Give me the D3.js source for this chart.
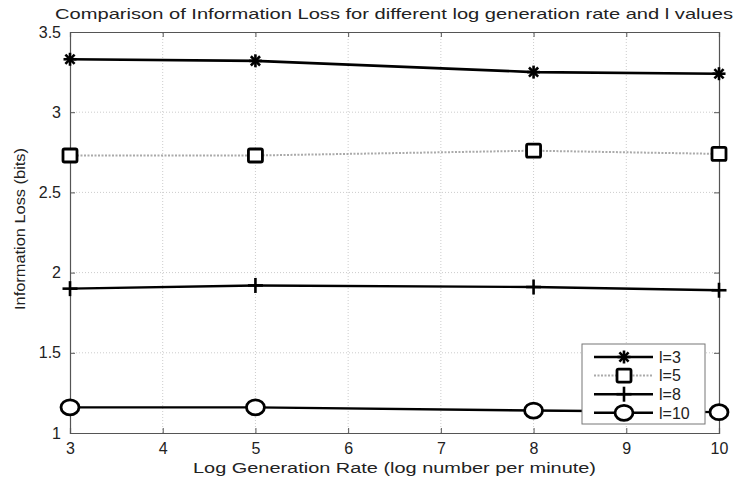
<!DOCTYPE html>
<html>
<head>
<meta charset="utf-8">
<script src="https://cdn.jsdelivr.net/npm/d3@7"></script>
<style>
  body { margin: 0; background: #fff; }
  text { font-family: "Liberation Sans", Arial, sans-serif; fill: #222; }
</style>
</head>
<body>
<script>
// data
var rates = [3, 5, 8, 10]
var seriesNames = ['l=3', 'l=5', 'l=8', 'l=10']
var loss_l3 = [3.33, 3.32, 3.25, 3.24]
var loss_l5 = [2.73, 2.73, 2.76, 2.74]
var loss_l8 = [1.90, 1.92, 1.91, 1.89]
var loss_l10 = [1.16, 1.16, 1.14, 1.13]
var xTicks = [3, 4, 5, 6, 7, 8, 9, 10]
var yTicks = [1, 1.5, 2, 2.5, 3, 3.5]

var W = 736, H = 478
var m = { left: 70, right: 17, top: 32, bottom: 45 }

var svg = d3.select('body').append('svg').attr('width', W).attr('height', H)

var x = d3.scaleLinear().domain([3, 10]).range([m.left, W - m.right])
var y = d3.scaleLinear().domain([1, 3.5]).range([H - m.bottom, m.top])

// grid
svg.append('g').selectAll('line').data(xTicks.slice(1, -1)).enter().append('line')
  .attr('x1', x).attr('x2', x).attr('y1', y(1)).attr('y2', y(3.5))
  .attr('stroke', '#ccc').attr('stroke-width', 1).attr('stroke-dasharray', '1,2')
svg.append('g').selectAll('line').data(yTicks.slice(1, -1)).enter().append('line')
  .attr('y1', y).attr('y2', y).attr('x1', x(3)).attr('x2', x(10))
  .attr('stroke', '#ccc').attr('stroke-width', 1).attr('stroke-dasharray', '1,2')

// axes (matlab style box, ticks inward)
var axCol = '#555'
var gx = svg.append('g').attr('transform', 'translate(0,' + y(1) + ')')
  .call(d3.axisBottom(x).tickValues(xTicks).tickSize(-5).tickPadding(9).tickFormat(d3.format('d')))
var gxTop = svg.append('g').attr('transform', 'translate(0,' + y(3.5) + ')')
  .call(d3.axisTop(x).tickValues(xTicks).tickSize(-5).tickFormat(''))
var gy = svg.append('g').attr('transform', 'translate(' + x(3) + ',0)')
  .call(d3.axisLeft(y).tickValues(yTicks).tickSize(-5).tickPadding(9).tickFormat(d3.format('')))
var gyR = svg.append('g').attr('transform', 'translate(' + x(10) + ',0)')
  .call(d3.axisRight(y).tickValues(yTicks).tickSize(-5).tickFormat(''))
;[gx, gxTop, gy, gyR].forEach(function (g) {
  g.selectAll('path').attr('stroke', axCol).attr('stroke-width', 1.2)
  g.selectAll('line').attr('stroke', axCol)
  g.selectAll('text').style('font-size', '16px').attr('fill', '#222')
})
gx.selectAll('.tick text').attr('dy', '0.75em')

// titles
svg.append('text').attr('x', 394).attr('y', 19).attr('text-anchor', 'middle')
  .attr('textLength', 678).attr('lengthAdjust', 'spacingAndGlyphs')
  .style('font-size', '14.5px').text('Comparison of Information Loss for different log generation rate and l values')
svg.append('text').attr('x', (x(3) + x(10)) / 2).attr('y', 473).attr('text-anchor', 'middle')
  .attr('textLength', 403).attr('lengthAdjust', 'spacingAndGlyphs')
  .style('font-size', '15.5px').text('Log Generation Rate (log number per minute)')
svg.append('text').attr('transform', 'translate(25,229) rotate(-90)')
  .attr('text-anchor', 'middle').attr('textLength', 162).attr('lengthAdjust', 'spacingAndGlyphs')
  .style('font-size', '14.5px').text('Information Loss (bits)')

// series
var series = [
  { name: seriesNames[0], vals: loss_l3, stroke: '#000', width: 2.6, dash: null, marker: 'star' },
  { name: seriesNames[1], vals: loss_l5, stroke: '#aaa', width: 2, dash: '2,1.5', marker: 'square' },
  { name: seriesNames[2], vals: loss_l8, stroke: '#000', width: 2.4, dash: null, marker: 'plus' },
  { name: seriesNames[3], vals: loss_l10, stroke: '#000', width: 2.4, dash: null, marker: 'circle' }
]

var line = d3.line().x(function (d) { return x(d[0]) }).y(function (d) { return y(d[1]) })

function drawMarker (g, kind, cx, cy) {
  if (kind === 'star') {
    var s = 6.5
    var p = g.append('g').attr('transform', 'translate(' + cx + ',' + cy + ')')
    ;[0, 45, 90, 135].forEach(function (a) {
      p.append('line').attr('x1', 0).attr('x2', 0).attr('y1', -s).attr('y2', s)
        .attr('transform', 'rotate(' + a + ')').attr('stroke', '#000').attr('stroke-width', 2.6)
    })
  } else if (kind === 'square') {
    g.append('rect').attr('x', cx - 7).attr('y', cy - 6.5).attr('width', 14).attr('height', 13).attr('rx', 1.5)
      .attr('fill', '#fff').attr('stroke', '#000').attr('stroke-width', 2.8)
  } else if (kind === 'plus') {
    g.append('line').attr('x1', cx).attr('x2', cx).attr('y1', cy - 7.5).attr('y2', cy + 7.5)
      .attr('stroke', '#000').attr('stroke-width', 2.6)
    g.append('line').attr('x1', cx - 7.5).attr('x2', cx + 7.5).attr('y1', cy).attr('y2', cy)
      .attr('stroke', '#000').attr('stroke-width', 2.6)
  } else {
    g.append('ellipse').attr('cx', cx).attr('cy', cy).attr('rx', 9).attr('ry', 7.5)
      .attr('fill', '#fff').attr('stroke', '#000').attr('stroke-width', 2.8)
  }
}

series.forEach(function (s) {
  var pts = rates.map(function (r, i) { return [r, s.vals[i]] })
  var g = svg.append('g')
  g.append('path').datum(pts).attr('d', line).attr('fill', 'none')
    .attr('stroke', s.stroke).attr('stroke-width', s.width).attr('stroke-dasharray', s.dash)
  pts.forEach(function (p) { drawMarker(g, s.marker, x(p[0]), y(p[1])) })
})

// legend
var lg = svg.append('g')
lg.append('rect').attr('x', 582).attr('y', 344).attr('width', 123).attr('height', 80)
  .attr('fill', '#fff').attr('stroke', '#777').attr('stroke-width', 1)
series.forEach(function (s, i) {
  var ly = 357 + i * 18.6
  lg.append('line').attr('x1', 594).attr('x2', 653).attr('y1', ly).attr('y2', ly)
    .attr('stroke', s.stroke).attr('stroke-width', s.width).attr('stroke-dasharray', s.dash)
  drawMarker(lg, s.marker, 624, ly)
  lg.append('text').attr('x', 659).attr('y', ly).attr('dy', '0.36em')
    .style('font-size', '16px').text(s.name)
})
</script>
</body>
</html>
